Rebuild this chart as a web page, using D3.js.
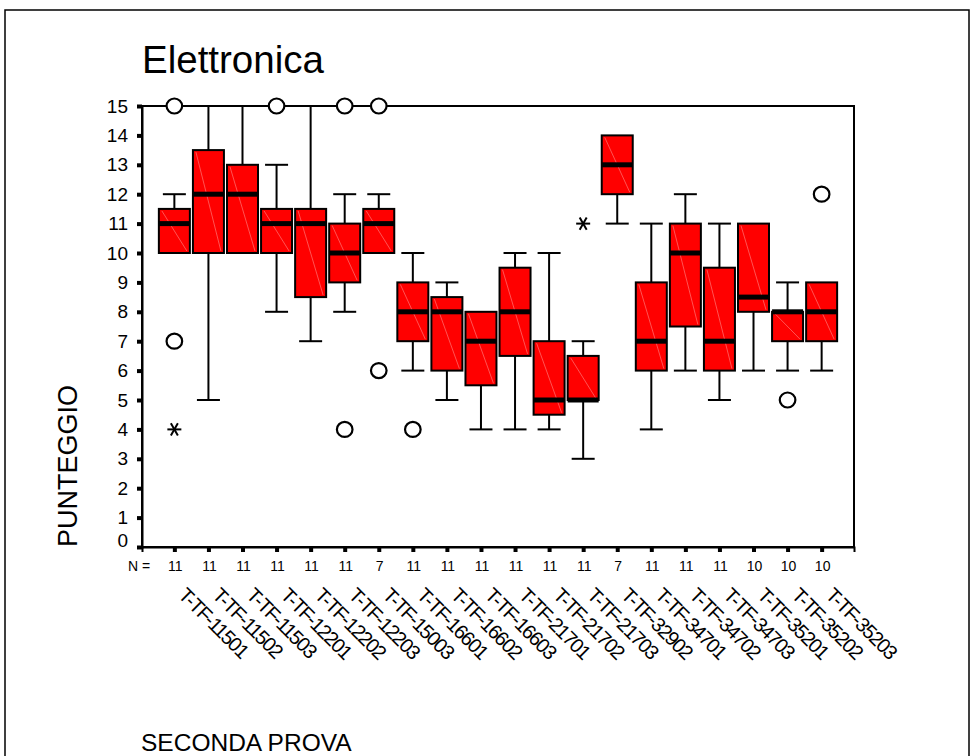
<!DOCTYPE html>
<html>
<head>
<meta charset="utf-8">
<script src="https://cdn.jsdelivr.net/npm/d3@7"></script>
<style>
  body { margin: 0; background: #fff; }
  svg { font-family: "Liberation Sans", Arial, sans-serif; }
</style>
</head>
<body>
<svg class="graphique" width="973" height="756"></svg>
<script>
// dati
const categories = ["T-TF-11501","T-TF-11502","T-TF-11503","T-TF-12201","T-TF-12202","T-TF-12203","T-TF-15003",
  "T-TF-16601","T-TF-16602","T-TF-16603","T-TF-21701","T-TF-21702","T-TF-21703","T-TF-32902",
  "T-TF-34701","T-TF-34702","T-TF-34703","T-TF-35201","T-TF-35202","T-TF-35203"]
const nValues     = [11,11,11,11,11,11,7,11,11,11,11,11,11,7,11,11,11,10,10,10]
const whiskerLow  = [10,5,10,8,7,8,10,6,5,4,4,4,3,11,4,6,5,6,6,6]
const q1          = [10,10,10,10,8.5,9,10,7,6,5.5,6.5,4.5,5,12,6,7.5,6,8,7,7]
const medians     = [11,12,12,11,11,10,11,8,8,7,8,5,5,13,7,10,7,8.5,8,8]
const q3          = [11.5,13.5,13,11.5,11.5,11,11.5,9,8.5,8,9.5,7,6.5,14,9,11,9.5,11,8,9]
const whiskerHigh = [12,15,15,13,15,12,12,10,9,8,10,10,7,14,11,12,11,11,9,9]
// outlier: categoria, valore, simbolo (o = cerchio, * = estremo)
const outlierCat   = ["T-TF-11501","T-TF-11501","T-TF-11501","T-TF-12201","T-TF-12203","T-TF-12203",
  "T-TF-15003","T-TF-15003","T-TF-16601","T-TF-21703","T-TF-35202","T-TF-35203"]
const outlierValue = [15,7,4,15,15,4,15,6,4,11,5,12]
const outlierType  = ["o","o","*","o","o","o","o","o","o","*","o","o"]
const yTicks = [0,1,2,3,4,5,6,7,8,9,10,11,12,13,14,15]

const svg = d3.select(".graphique")

// cornice esterna
svg.append("rect")
  .attr("x", 5).attr("y", 10).attr("width", 964).attr("height", 780)
  .attr("fill", "none").attr("stroke", "#000").attr("stroke-width", 1.5)

const plotLeft = 142, plotRight = 854, plotTop = 106, plotBottom = 547

const x = d3.scalePoint().domain(categories).range([plotLeft, plotRight]).padding(0.95)
const y = d3.scaleLinear().domain([0, 15]).range([plotBottom, plotTop])

// titolo
svg.append("text").attr("x", 142).attr("y", 73)
  .attr("font-size", 38.5).text("Elettronica")

// riquadro del grafico
svg.append("rect")
  .attr("x", plotLeft).attr("y", plotTop).attr("width", plotRight - plotLeft).attr("height", plotBottom - plotTop)
  .attr("fill", "none").attr("stroke", "#000").attr("stroke-width", 2)

// asse y
const yAxis = svg.append("g")
  .attr("transform", "translate(" + plotLeft + ",0)")
  .call(d3.axisLeft(y).tickValues(yTicks).tickSize(5).tickPadding(9))
yAxis.select(".domain").attr("stroke-width", 2)
yAxis.selectAll(".tick line").attr("stroke-width", 4)
yAxis.selectAll(".tick text").attr("font-size", 19).attr("font-family", "Liberation Sans, Arial, sans-serif")
  .attr("fill", "#000")
yAxis.selectAll(".tick").filter(d => d === 0).select("text").attr("dy", "-0.05em")

// asse x (solo tacche)
const xAxis = svg.append("g")
  .attr("transform", "translate(0," + plotBottom + ")")
  .call(d3.axisBottom(x).tickSize(5).tickFormat(""))
xAxis.select(".domain").attr("stroke-width", 2)
xAxis.selectAll(".tick line").attr("stroke-width", 4)

// box plot
const boxW = 31, capW = 23
const boxes = svg.append("g")
categories.forEach((c, i) => {
  const cx = x(c)
  const g = boxes.append("g")
  // baffi
  g.append("line").attr("x1", cx).attr("x2", cx).attr("y1", y(q3[i])).attr("y2", y(whiskerHigh[i]))
    .attr("stroke", "#000").attr("stroke-width", 2)
  g.append("line").attr("x1", cx).attr("x2", cx).attr("y1", y(q1[i])).attr("y2", y(whiskerLow[i]))
    .attr("stroke", "#000").attr("stroke-width", 2)
  if (whiskerHigh[i] > q3[i])
    g.append("line").attr("x1", cx - capW / 2).attr("x2", cx + capW / 2)
      .attr("y1", y(whiskerHigh[i])).attr("y2", y(whiskerHigh[i])).attr("stroke", "#000").attr("stroke-width", 2)
  if (whiskerLow[i] < q1[i])
    g.append("line").attr("x1", cx - capW / 2).attr("x2", cx + capW / 2)
      .attr("y1", y(whiskerLow[i])).attr("y2", y(whiskerLow[i])).attr("stroke", "#000").attr("stroke-width", 2)
  // scatola
  g.append("rect").attr("x", cx - boxW / 2).attr("y", y(q3[i]))
    .attr("width", boxW).attr("height", y(q1[i]) - y(q3[i]))
    .attr("fill", "#ff0000").attr("stroke", "#000").attr("stroke-width", 2)
  // riga chiara diagonale
  g.append("line").attr("x1", cx - boxW / 2 + 3).attr("y1", y(q3[i]) + 2)
    .attr("x2", cx + boxW / 2 - 3).attr("y2", y(q1[i]) - 2)
    .attr("stroke", "#ff8c8c").attr("stroke-width", 0.6)
  // mediana
  g.append("line").attr("x1", cx - boxW / 2).attr("x2", cx + boxW / 2)
    .attr("y1", y(medians[i])).attr("y2", y(medians[i]))
    .attr("stroke", "#000").attr("stroke-width", 5)
})

// outlier
outlierCat.forEach((c, i) => {
  const cx = x(c), cy = y(outlierValue[i])
  if (outlierType[i] === "o") {
    svg.append("ellipse").attr("cx", cx).attr("cy", cy).attr("rx", 7.8).attr("ry", 7.5)
      .attr("fill", "#fff").attr("stroke", "#000").attr("stroke-width", 2.2)
  } else {
    const r = 7
    ;[0, 60, 120].forEach(a => {
      const rad = a * Math.PI / 180
      svg.append("line")
        .attr("x1", cx - r * Math.cos(rad)).attr("y1", cy - r * Math.sin(rad))
        .attr("x2", cx + r * Math.cos(rad)).attr("y2", cy + r * Math.sin(rad))
        .attr("stroke", "#000").attr("stroke-width", 2)
    })
  }
})

// N =
svg.append("text").attr("x", 128).attr("y", 571).attr("font-size", 14).text("N =")
svg.selectAll(".nlab").data(categories).enter().append("text")
  .attr("class", "nlab")
  .attr("x", d => x(d) + 1).attr("y", 571)
  .attr("text-anchor", "middle").attr("font-size", 14)
  .text((d, i) => nValues[i])

// etichette categorie ruotate
svg.selectAll(".clab").data(categories).enter().append("text")
  .attr("class", "clab")
  .attr("transform", d => "translate(" + (x(d) + 13) + ",586) rotate(45)")
  .attr("font-size", 20).attr("letter-spacing", -1.4)
  .attr("dominant-baseline", "hanging")
  .text(d => d)

// titoli assi
svg.append("text")
  .attr("transform", "translate(76.5,466) rotate(-90)")
  .attr("text-anchor", "middle").attr("font-size", 27)
  .text("PUNTEGGIO")
svg.append("text").attr("x", 141).attr("y", 751).attr("font-size", 24.5).text("SECONDA PROVA")
</script>
</body>
</html>
